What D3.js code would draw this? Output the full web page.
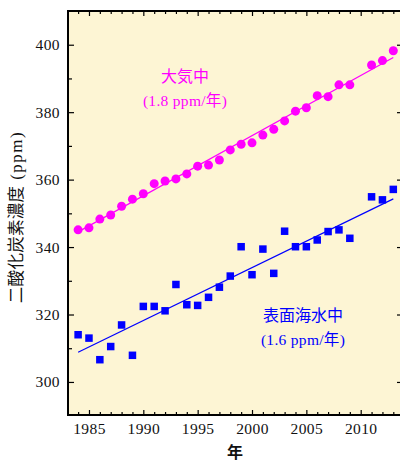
<!DOCTYPE html>
<html>
<head>
<meta charset="utf-8">
<script src="https://cdn.jsdelivr.net/npm/d3@7"></script>
<style>
  body { margin: 0; background: #fff; }
  svg { display: block; }
</style>
</head>
<body>
<div id="chart"></div>
<script>
// size of the picture and the plot frame
var w = 400;
var h = 463;
var plotLeft = 68, plotTop = 11, plotRight = 402, plotBottom = 415;

// data
var years = [1984, 1985, 1986, 1987, 1988, 1989, 1990, 1991, 1992, 1993,
             1994, 1995, 1996, 1997, 1998, 1999, 2000, 2001, 2002, 2003,
             2004, 2005, 2006, 2007, 2008, 2009, 2011, 2012, 2013];
var atmosphere = [345.1, 345.7, 348.3, 349.5, 352.1, 354.2, 355.8, 358.8, 359.6, 360.2,
                  361.7, 364.0, 364.3, 365.8, 368.8, 370.5, 370.9, 373.2, 374.9, 377.4,
                  380.3, 381.3, 384.9, 384.6, 388.1, 388.1, 394.0, 395.3, 398.2];
var seawater = [314.0, 313.0, 306.6, 310.5, 316.9, 307.9, 322.4, 322.4, 321.1, 328.9,
                322.9, 322.7, 325.1, 328.1, 331.4, 340.1, 331.8, 339.4, 332.2, 344.7,
                340.1, 340.1, 342.1, 344.6, 345.1, 342.6, 354.9, 354.0, 357.1];

// fitted lines: [year, ppm] at both ends, as drawn
var atmosphereFit = [[1984, 344.5], [2013, 396.2]];
var seawaterFit = [[1984, 308.8], [2013, 354.3]];

var xMajor = [1985, 1990, 1995, 2000, 2005, 2010];
var yMajor = [300, 320, 340, 360, 380, 400];

var magenta = "#ff00ff";
var blue = "#0000ff";

var xScale = d3.scaleLinear()
    .domain([1983.07, 2013.8])
    .range([plotLeft, plotRight]);

var yScale = d3.scaleLinear()
    .domain([290.2, 410])
    .range([plotBottom, plotTop]);

var svg = d3.select("#chart")
    .append("svg")
    .attr("width", w)
    .attr("height", h);

// plot background
svg.append("rect")
    .attr("x", plotLeft)
    .attr("y", plotTop)
    .attr("width", plotRight - plotLeft)
    .attr("height", plotBottom - plotTop)
    .attr("fill", "#fdf5d4");

// minor ticks (every year / every 10 ppm)
var xMinor = d3.range(1984, 2014).filter(d => xMajor.indexOf(d) < 0);
var yMinor = d3.range(300, 410, 10).filter(d => yMajor.indexOf(d) < 0);

function styleAxis(g) {
    g.select(".domain").remove();
    g.selectAll(".tick line").attr("stroke", "#000").attr("stroke-width", 1.2);
    g.selectAll(".tick text")
        .attr("fill", "#111")
        .style("font-family", "'Liberation Serif', 'DejaVu Serif', serif")
        .style("font-size", "15.5px")
        .style("letter-spacing", "0.4px");
}

// bottom
svg.append("g").attr("transform", `translate(0,${plotBottom})`)
    .call(d3.axisBottom(xScale).tickValues(xMajor).tickSize(-5).tickPadding(8).tickFormat(d3.format("d")))
    .call(styleAxis);
svg.append("g").attr("transform", `translate(0,${plotBottom})`)
    .call(d3.axisBottom(xScale).tickValues(xMinor).tickSize(-3).tickFormat(""))
    .call(styleAxis);
// top
svg.append("g").attr("transform", `translate(0,${plotTop})`)
    .call(d3.axisTop(xScale).tickValues(xMajor).tickSize(-5).tickFormat(""))
    .call(styleAxis);
svg.append("g").attr("transform", `translate(0,${plotTop})`)
    .call(d3.axisTop(xScale).tickValues(xMinor).tickSize(-3).tickFormat(""))
    .call(styleAxis);
// left
svg.append("g").attr("transform", `translate(${plotLeft},0)`)
    .call(d3.axisLeft(yScale).tickValues(yMajor).tickSize(-6).tickPadding(8).tickFormat(d3.format("d")))
    .call(styleAxis);
svg.append("g").attr("transform", `translate(${plotLeft},0)`)
    .call(d3.axisLeft(yScale).tickValues(yMinor).tickSize(-4).tickFormat(""))
    .call(styleAxis);
// right
svg.append("g").attr("transform", `translate(${plotRight},0)`)
    .call(d3.axisRight(yScale).tickValues(yMajor).tickSize(-5).tickFormat(""))
    .call(styleAxis);

// frame
svg.append("rect")
    .attr("x", plotLeft)
    .attr("y", plotTop)
    .attr("width", plotRight - plotLeft)
    .attr("height", plotBottom - plotTop)
    .attr("fill", "none")
    .attr("stroke", "#000")
    .attr("stroke-width", 2);

var line = d3.line()
    .x(d => xScale(d[0]))
    .y(d => yScale(d[1]));

// fit lines
svg.append("path")
    .attr("d", line(atmosphereFit))
    .attr("fill", "none")
    .attr("stroke", magenta)
    .attr("stroke-width", 1.2);

svg.append("path")
    .attr("d", line(seawaterFit))
    .attr("fill", "none")
    .attr("stroke", blue)
    .attr("stroke-width", 1.2);

// atmosphere points (circles)
svg.append("g").selectAll("circle")
    .data(years)
    .enter()
    .append("circle")
    .attr("cx", d => xScale(d))
    .attr("cy", (d, i) => yScale(atmosphere[i]))
    .attr("r", 4.5)
    .attr("fill", magenta);

// seawater points (squares)
var sq = 7.5;
svg.append("g").selectAll("rect")
    .data(years)
    .enter()
    .append("rect")
    .attr("x", d => xScale(d) - sq / 2)
    .attr("y", (d, i) => yScale(seawater[i]) - sq / 2)
    .attr("width", sq)
    .attr("height", sq)
    .attr("fill", blue);

// annotations
var cjk = "'Noto Sans CJK JP', sans-serif";
var serif = "'Liberation Serif', 'Noto Sans CJK JP', serif";

function note(x, y, title, rate, color) {
    svg.append("text")
        .attr("x", x).attr("y", y)
        .attr("text-anchor", "middle")
        .attr("fill", color)
        .style("font-family", cjk)
        .style("font-size", "16px")
        .text(title);
    svg.append("text")
        .attr("x", x).attr("y", y + 24)
        .attr("text-anchor", "middle")
        .attr("fill", color)
        .style("font-family", serif)
        .style("font-size", "15.5px")
        .style("letter-spacing", "0.3px")
        .text(rate);
}
note(185, 82, "大気中", "(1.8 ppm/年)", magenta);
note(303, 321, "表面海水中", "(1.6 ppm/年)", blue);

// axis titles
svg.append("text")
    .attr("x", 235)
    .attr("y", 458)
    .attr("text-anchor", "middle")
    .attr("fill", "#111")
    .style("font-family", cjk)
    .style("font-size", "16px")
    .style("font-weight", "bold")
    .text("年");

var yTitle = svg.append("text")
    .attr("transform", "translate(22,217) rotate(-90)")
    .attr("text-anchor", "middle")
    .attr("fill", "#111")
    .style("font-size", "16.5px");
yTitle.append("tspan")
    .style("font-family", cjk)
    .style("letter-spacing", "0.3px")
    .text("二酸化炭素濃度");
yTitle.append("tspan")
    .style("font-family", serif)
    .style("font-size", "17px")
    .style("letter-spacing", "1.5px")
    .text(" (ppm)");
</script>
</body>
</html>
